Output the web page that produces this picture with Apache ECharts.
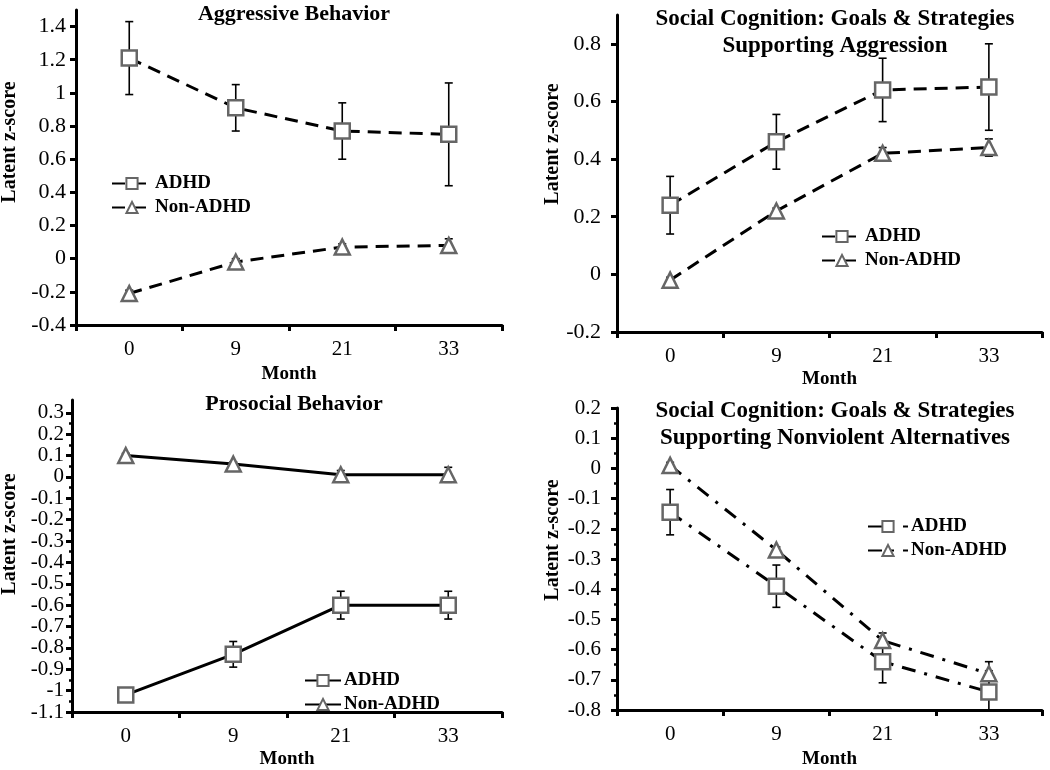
<!DOCTYPE html>
<html>
<head>
<meta charset="utf-8">
<script src="https://cdn.jsdelivr.net/npm/echarts@6/dist/echarts.min.js"></script>
<style>html,body{margin:0;padding:0;background:#fff;}#c{width:1050px;height:770px;}</style>
</head>
<body>
<div id="c"></div>
<script>
// ---- data ----
const months = ['0', '9', '21', '33'];

// Aggressive Behavior
const aggAdhd = [1.21, 0.91, 0.77, 0.75];
const aggAdhdErr = [0.22, 0.14, 0.17, 0.31];
const aggNon = [-0.21, -0.02, 0.07, 0.08];
const aggNonErr = [0.02, 0.02, 0.02, 0.04];
const aggTicks = [-0.4, -0.2, 0, 0.2, 0.4, 0.6, 0.8, 1, 1.2, 1.4];

// Social Cognition: supporting aggression
const socAdhd = [0.24, 0.46, 0.64, 0.65];
const socAdhdErr = [0.10, 0.095, 0.11, 0.15];
const socNon = [-0.02, 0.22, 0.42, 0.44];
const socNonErr = [0.01, 0.01, 0.02, 0.03];
const socTicks = [-0.2, 0, 0.2, 0.4, 0.6, 0.8];

// Prosocial Behavior
const prosAdhd = [-1.02, -0.83, -0.60, -0.60];
const prosAdhdErr = [0.02, 0.06, 0.065, 0.065];
const prosNon = [0.10, 0.06, 0.01, 0.01];
const prosNonErr = [0.01, 0.01, 0.02, 0.035];
const prosTicks = [-1.1, -1, -0.9, -0.8, -0.7, -0.6, -0.5, -0.4, -0.3, -0.2, -0.1, 0, 0.1, 0.2, 0.3];
const prosMinorTicks = [-1.05, -0.95, -0.85, -0.75, -0.65, -0.55, -0.45, -0.35, -0.25, -0.15, -0.05, 0.05, 0.15, 0.25];

// Social Cognition: nonviolent alternatives
const nvAdhd = [-0.145, -0.39, -0.64, -0.74];
const nvAdhdErr = [0.075, 0.07, 0.07, 0.07];
const nvNon = [0.01, -0.27, -0.57, -0.68];
const nvNonErr = [0.01, 0.01, 0.025, 0.04];
const nvTicks = [-0.8, -0.7, -0.6, -0.5, -0.4, -0.3, -0.2, -0.1, 0, 0.1, 0.2];
const nvMinorTicks = [-0.75, -0.65, -0.55, -0.45, -0.35, -0.25, -0.15, -0.05, 0.05, 0.15];

// ---- styles ----
const FONT = "'Liberation Serif', 'Times New Roman', serif";
const DASH = [13, 8];
const DASHDOT = [14, 9, 3, 9];

function errData(v, e) { return v.map((y, i) => [i, y - e[i], y + e[i]]); }

function errRender(params, api) {
  const x = api.value(0), lo = api.value(1), hi = api.value(2);
  const p1 = api.coord([x, hi]);
  const p2 = api.coord([x, lo]);
  const w = 4;
  const st = { stroke: '#000', lineWidth: 1.6 };
  return {
    type: 'group',
    children: [
      { type: 'line', shape: { x1: p1[0], y1: p1[1], x2: p2[0], y2: p2[1] }, style: st },
      { type: 'line', shape: { x1: p1[0] - w, y1: p1[1], x2: p1[0] + w, y2: p1[1] }, style: st },
      { type: 'line', shape: { x1: p2[0] - w, y1: p2[1], x2: p2[0] + w, y2: p2[1] }, style: st }
    ]
  };
}

const grids = [
  { left: 76, top: 10, width: 426, height: 315 },
  { left: 617, top: 15, width: 425, height: 317 },
  { left: 72, top: 400, width: 430, height: 320 },
  { left: 617, top: 408, width: 425, height: 315 }
];

function xAx(gi, nameGap) {
  return {
    type: 'category', gridIndex: gi, data: months, boundaryGap: true,
    axisLine: { onZero: false, lineStyle: { color: '#000', width: 3 } },
    axisTick: { show: true, length: 6, lineStyle: { color: '#000', width: 3 } },
    axisLabel: { color: '#000', fontSize: 21, fontFamily: FONT, margin: 14 },
    name: 'Month', nameLocation: 'middle', nameGap: nameGap,
    nameTextStyle: { color: '#000', fontSize: 19, fontWeight: 'bold', fontFamily: FONT },
    splitLine: { show: false }
  };
}

function yAx(gi, min, max, ticks, fs, margin) {
  return {
    type: 'value', gridIndex: gi, min: min, max: max, position: 'left',
    axisLine: { show: true, onZero: false, lineStyle: { color: '#000', width: 3 } },
    axisTick: { show: true, length: 6, customValues: ticks, lineStyle: { color: '#000', width: 3 } },
    axisLabel: { color: '#000', fontSize: fs, fontFamily: FONT, margin: margin, customValues: ticks,
      formatter: v => String(Math.round(v * 100) / 100) },
    splitLine: { show: false }
  };
}

function yMinor(gi, min, max, ticks) {
  return {
    type: 'value', gridIndex: gi, min: min, max: max, position: 'left', offset: 0,
    axisLine: { show: false, onZero: false },
    axisTick: { show: true, length: 3, customValues: ticks, lineStyle: { color: '#000', width: 2.5 } },
    axisLabel: { show: false },
    splitLine: { show: false }
  };
}

function lineSeries(name, gi, yi, data, symbol, dash) {
  return {
    type: 'line', name: name, xAxisIndex: gi, yAxisIndex: yi, data: data,
    symbol: symbol, symbolSize: 15,
    lineStyle: { color: '#000', width: 3, type: dash },
    itemStyle: { color: '#fff', borderColor: '#666', borderWidth: 2.5 },
    z: 3, animation: false
  };
}

function errSeries(gi, yi, v, e) {
  return {
    type: 'custom', xAxisIndex: gi, yAxisIndex: yi, data: errData(v, e),
    encode: { x: 0, y: [1, 2] }, renderItem: errRender, clip: true, z: 1, animation: false, silent: true
  };
}

function legend(names, left, top, iw) {
  return {
    data: names, orient: 'vertical', left: left, top: top,
    itemWidth: iw, itemHeight: 14, itemGap: 5,
    formatter: n => n.split('#')[0],
    textStyle: { color: '#000', fontSize: 19, fontWeight: 'bold', fontFamily: FONT, padding: [0, 0, 0, -2] },
    selectedMode: false
  };
}

function ytitle(x, y) {
  return {
    type: 'text', x: x, y: y, rotation: Math.PI / 2,
    style: { text: 'Latent z-score', font: 'bold 20px ' + FONT, fill: '#000',
      align: 'center', verticalAlign: 'middle', textAlign: 'center', textVerticalAlign: 'middle' }
  };
}

const titleStyle1 = { color: '#000', fontSize: 22, fontWeight: 'bold', fontFamily: FONT, lineHeight: 27 };
const titleStyle2 = { color: '#000', fontSize: 23, fontWeight: 'bold', fontFamily: FONT, lineHeight: 27 };

const option = {
  backgroundColor: '#fff',
  animation: false,
  title: [
    { text: 'Aggressive Behavior', left: 289, top: -4, textAlign: 'center', textStyle: titleStyle1 },
    { text: 'Social Cognition: Goals & Strategies\nSupporting Aggression', left: 830, top: 1, textAlign: 'center', textStyle: titleStyle2 },
    { text: 'Prosocial Behavior', left: 289, top: 386, textAlign: 'center', textStyle: titleStyle1 },
    { text: 'Social Cognition: Goals & Strategies\nSupporting Nonviolent Alternatives', left: 830, top: 393, textAlign: 'center', textStyle: titleStyle2 }
  ],
  grid: grids,
  xAxis: [xAx(0, 40), xAx(1, 38), xAx(2, 38), xAx(3, 40)],
  yAxis: [
    yAx(0, -0.4, 1.5, aggTicks, 22, 10),
    yAx(1, -0.2, 0.9, socTicks, 22, 16),
    yAx(2, -1.1, 0.36, prosTicks, 21, 8),
    yAx(3, -0.8, 0.2, nvTicks, 21, 16),
    yMinor(2, -1.1, 0.36, prosMinorTicks),
    yMinor(3, -0.8, 0.2, nvMinorTicks)
  ],
  legend: [
    legend(['ADHD#1', 'Non-ADHD#1'], 106, 169, 40),
    legend(['ADHD#2', 'Non-ADHD#2'], 816, 222, 40),
    legend(['ADHD#3', 'Non-ADHD#3'], 299, 666, 36),
    legend(['ADHD#4', 'Non-ADHD#4'], 862, 512, 40)
  ],
  graphic: [ytitle(10, 142), ytitle(553, 144), ytitle(10, 534), ytitle(553, 540)],
  series: [
    errSeries(0, 0, aggAdhd, aggAdhdErr),
    errSeries(0, 0, aggNon, aggNonErr),
    lineSeries('ADHD#1', 0, 0, aggAdhd, 'rect', DASH),
    lineSeries('Non-ADHD#1', 0, 0, aggNon, 'triangle', DASH),

    errSeries(1, 1, socAdhd, socAdhdErr),
    errSeries(1, 1, socNon, socNonErr),
    lineSeries('ADHD#2', 1, 1, socAdhd, 'rect', DASH),
    lineSeries('Non-ADHD#2', 1, 1, socNon, 'triangle', DASH),

    errSeries(2, 2, prosAdhd, prosAdhdErr),
    errSeries(2, 2, prosNon, prosNonErr),
    lineSeries('ADHD#3', 2, 2, prosAdhd, 'rect', 'solid'),
    lineSeries('Non-ADHD#3', 2, 2, prosNon, 'triangle', 'solid'),

    errSeries(3, 3, nvAdhd, nvAdhdErr),
    errSeries(3, 3, nvNon, nvNonErr),
    lineSeries('ADHD#4', 3, 3, nvAdhd, 'rect', DASHDOT),
    lineSeries('Non-ADHD#4', 3, 3, nvNon, 'triangle', DASHDOT)
  ]
};

const chart = echarts.init(document.getElementById('c'), null, { renderer: 'canvas' });
chart.setOption(option);
</script>
</body>
</html>
